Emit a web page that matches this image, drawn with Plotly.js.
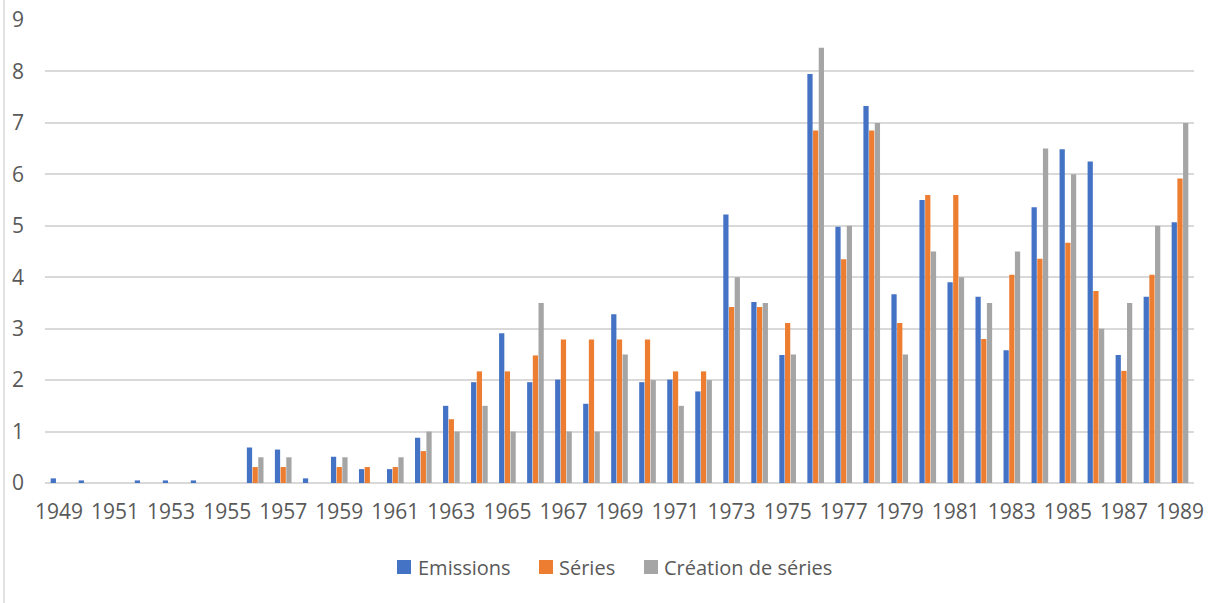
<!DOCTYPE html>
<html>
<head>
<meta charset="utf-8">
<script src="https://cdn.plot.ly/plotly-3.0.1.min.js"></script>
<style>
html,body{margin:0;padding:0;background:#fff;}
#chart{width:1217px;height:603px;}
</style>
</head>
<body>
<div id="chart"></div>
<script>
const years = [1949,1950,1951,1952,1953,1954,1955,1956,1957,1958,1959,1960,1961,1962,1963,1964,1965,1966,1967,1968,1969,1970,1971,1972,1973,1974,1975,1976,1977,1978,1979,1980,1981,1982,1983,1984,1985,1986,1987,1988,1989];
const emissions = [0.09,0.05,0,0.05,0.05,0.05,0,0.69,0.65,0.09,0.51,0.27,0.27,0.88,1.5,1.96,2.91,1.96,2.01,1.54,3.28,1.96,2.01,1.78,5.22,3.52,2.49,7.95,4.98,7.33,3.67,5.5,3.9,3.62,2.58,5.36,6.49,6.25,2.49,3.62,5.07];
const series = [0,0,0,0,0,0,0,0.31,0.31,0,0.31,0.31,0.31,0.62,1.24,2.17,2.17,2.48,2.79,2.79,2.79,2.79,2.17,2.17,3.42,3.42,3.11,6.85,4.35,6.85,3.11,5.6,5.6,2.8,4.05,4.36,4.67,3.73,2.18,4.05,5.92];
const creation = [0,0,0,0,0,0,0,0.5,0.5,0,0.5,0,0.5,1,1,1.5,1,3.5,1,1,2.5,2,1.5,2,4,3.5,2.5,8.46,5,7,2.5,4.5,4,3.5,4.5,6.5,6,3,3.5,5,7];
const names = ["Emissions","Séries","Création de séries"];
const colors = ["#4472C4","#ED7D31","#A5A5A5"];

const W = 1217, H = 603;
const M = {l:45, r:23, t:20, b:120};
const PW = W - M.l - M.r, PH = H - M.t - M.b;
const px = X => (X - M.l) / PW;
const py = Y => (H - M.b - Y) / PH;

const traces = [emissions, series, creation].map((v,i)=>({
  type:'bar', x: years, y: v, name: names[i],
  marker:{color: colors[i], line:{width:0}}
}));

// custom legend (pixel layout)
const legendMarkerX = [397, 539, 644];
const legendTextX = [416, 557, 662];
const legendY = 567;
const shapes = [{type:'line', xref:'paper', yref:'paper', x0:px(4), x1:px(4), y0:py(620), y1:py(-10),
    line:{color:'#d9d9d9', width:1.5}}];
const annotations = [];
names.forEach((n,i)=>{
  shapes.push({type:'rect', xref:'paper', yref:'paper',
    x0:px(legendMarkerX[i]), x1:px(legendMarkerX[i]+14),
    y0:py(legendY+7), y1:py(legendY-7),
    fillcolor:colors[i], line:{width:0}});
  annotations.push({xref:'paper', yref:'paper', x:px(legendTextX[i]), y:py(legendY),
    xanchor:'left', yanchor:'middle', showarrow:false, text:n,
    font:{size:20, color:'#595959'}});
});

const layout = {
  width:W, height:H,
  margin:M,
  paper_bgcolor:'#fff', plot_bgcolor:'#fff',
  font:{family:'"Open Sans", sans-serif', size:20, color:'#595959'},
  barmode:'group', bargap:0.39, bargroupgap:0.08,
  xaxis:{
    type:'linear', range:[1948.5,1989.5], tick0:1949, dtick:2,
    showgrid:false, zeroline:false, showline:false, ticks:'',
    tickfont:{size:21, color:'#595959'}, ticklabelstandoff:14
  },
  yaxis:{
    range:[0,9], dtick:1, showgrid:true, gridcolor:'#d9d9d9', gridwidth:2,
    zeroline:true, zerolinecolor:'#d9d9d9', zerolinewidth:2, showline:false, ticks:'',
    tickfont:{size:21, color:'#595959'}, ticklabelstandoff:20
  },
  showlegend:false,
  shapes: shapes,
  annotations: annotations
};
Plotly.newPlot('chart', traces, layout, {displayModeBar:false, staticPlot:true});
</script>
</body>
</html>
